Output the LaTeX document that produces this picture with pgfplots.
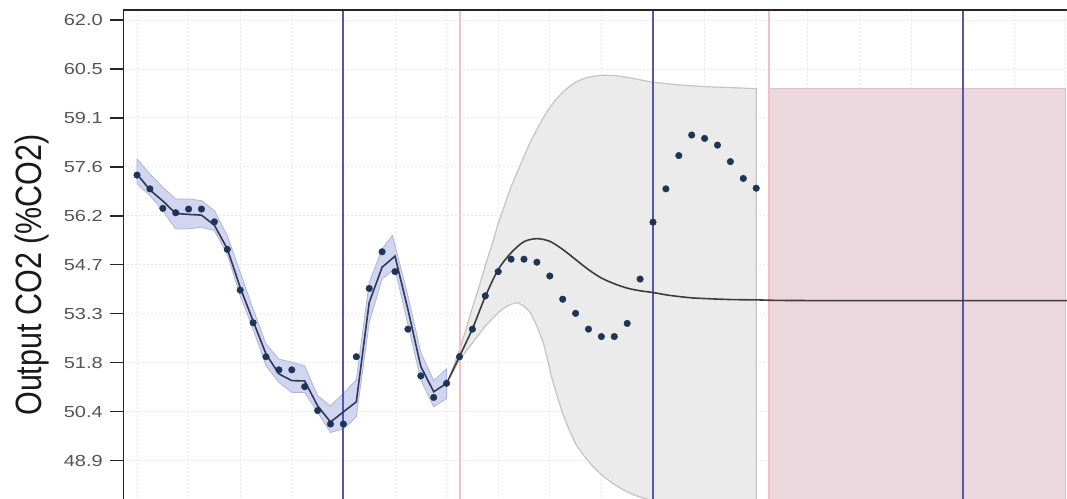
\documentclass[border=0pt]{standalone}
\usepackage{graphicx}
\usepackage{pgfplots}
\pgfplotsset{compat=1.18}
\usepackage{fontspec}
\setmainfont{Liberation Sans}
\newfontfamily\tickfont[FakeStretch=1.25]{Liberation Sans}
\definecolor{tickgray}{HTML}{555555}
\definecolor{ptblue}{HTML}{1D3557}
\definecolor{bandblue}{HTML}{D1D5EF}
\definecolor{bandblueedge}{HTML}{AEB4DC}
\definecolor{linenavy}{HTML}{2E3A58}
\definecolor{linegray}{HTML}{3C3C3C}
\definecolor{bandgray}{HTML}{EBEBEB}
\definecolor{bandgrayedge}{HTML}{C4C4C4}
\definecolor{pinkfill}{HTML}{EBD7DD}
\definecolor{pinkedge}{HTML}{D4C3C8}
\definecolor{vblue}{HTML}{5558A8}
\definecolor{vpink}{HTML}{F0C0CA}
\begin{document}
\begin{tikzpicture}
\useasboundingbox (0,0) rectangle (1067bp,-499bp);
\clip (0,0) rectangle (1067bp,-499bp);
\begin{axis}[
  name=ax,
  at={(123.3bp,-10bp)}, anchor=north west,
  scale only axis, width=948.95bp, height=514.6bp,
  xmin=-1.062, xmax=72.5, ymin=47.0, ymax=62.297,
  axis line style={draw=none},
  xtick={0,4,...,72}, xticklabels={}, xtick style={draw=none},
  ytick={62,60.5444,59.0889,57.6333,56.1778,54.7222,53.2667,51.8111,50.3556,48.9,47.4444},
  yticklabels={62.0,60.5,59.1,57.6,56.2,54.7,53.3,51.8,50.4,48.9,},
  ytick pos=left, tick align=outside, major tick length=13bp,
  ytick style={line width=1.3bp, color=black!85},
  yticklabel style={font=\tickfont\fontsize{16bp}{16bp}\selectfont, text=tickgray, xshift=-4bp},
  grid=major, major grid style={line width=0.9bp, dash pattern=on 1.5bp off 2.5bp, color=black!9},
  ylabel={\scalebox{1}[1.2]{Output CO2 (\%CO2)}},
  every axis y label/.style={at={(axis description cs:-0.0857,0.485)}, rotate=90, anchor=base, font=\fontsize{30.5bp}{30.5bp}\selectfont, text=black!90},
]
% pink forecast region
\addplot[fill=pinkfill, draw=pinkedge, line width=1bp] coordinates {
 (49,59.96) (71.94,59.96) (71.94,47.36) (49,47.36)} -- cycle;
% gray band
\addplot[fill=bandgray, draw=bandgrayedge, line width=1.2bp] coordinates {
 (24.3,51.45) (25,52.2) (25.5,52.8) (26,53.45) (26.5,54.05) (27,54.7) (27.5,55.3) (28,55.95) (28.5,56.5) (29,57.05) (29.5,57.5) (30,57.95) (30.5,58.38) (31,58.75) (31.5,59.1) (32,59.4) (32.5,59.65) (33,59.85) (33.5,60.02) (34,60.15) (34.5,60.24) (35,60.3) (36,60.36) (37,60.35) (38,60.3) (39,60.22) (40,60.15) (42,60.07) (44,60.02) (46,59.99) (48,59.96)
 (48,47.35) (46,47.4) (44,47.48) (42,47.58) (40.5,47.7) (39.6,47.75) (38.5,47.88) (37.7,48.03) (36.9,48.22) (36.1,48.45) (35.4,48.7) (34.7,49.02) (34,49.4) (33.5,49.82) (33,50.3) (32.6,50.78) (32.2,51.3) (31.8,51.95) (31.5,52.4) (31,52.9) (30.5,53.3) (30,53.5) (29.5,53.6) (29,53.55) (28.5,53.45) (28,53.3) (27.5,53.1) (27,52.9) (26.5,52.65) (26,52.4) (25.5,52.15) (25,51.9) (24.3,51.4)} -- cycle;
% blue band
\addplot[fill=bandblue, draw=bandblueedge, line width=0.8bp] coordinates {
 (0,57.87) (1,57.42) (2,57.03) (3,56.68) (4,56.68) (5,56.63) (6,56.33) (7,55.59) (8,54.5) (9,53.41) (10,52.37) (11,51.92) (12,51.83) (13,51.72) (14,50.83) (15,50.53) (16,50.9) (17,51.3) (18,54.2) (19,55.19) (19.8,55.6) (21,53.8) (22,52.12) (23,51.28) (24,51.63)
 (24,50.75) (23,50.5) (22,51.3) (21,52.95) (20,54.6) (19,54.3) (18,53.0) (17,50.2) (16,49.84) (15,49.74) (14,50.34) (13,50.93) (12,50.93) (11,51.23) (10,51.72) (9,52.81) (8,53.8) (7,55.04) (6,55.74) (5,55.84) (4,55.79) (3,55.79) (2,56.33) (1,56.78) (0,57.13)} -- cycle;
% vertical markers
\addplot[vpink, line width=2bp] coordinates {(25,46) (25,63)};
\addplot[vpink, line width=2bp] coordinates {(49,46) (49,63)};
\addplot[vblue, line width=2.1bp] coordinates {(16,46) (16,63)};
\addplot[vblue, line width=2.1bp] coordinates {(40,46) (40,63)};
\addplot[vblue, line width=2.1bp] coordinates {(64,46) (64,63)};
% fitted mean
\addplot[linenavy, line width=1.6bp] coordinates {
 (0,57.42) (1,56.95) (2,56.62) (3,56.25) (4,56.22) (5,56.2) (6,55.9) (7,55.2) (8,54.05) (9,53.05) (10,52.07) (11,51.48) (12,51.28) (13,51.27) (14,50.53) (15,50.05) (16,50.35) (17,50.65) (18,53.6) (19,54.65) (20,54.98) (21,53.4) (22,51.7) (23,50.95) (24,51.2)};
\addplot[linegray, line width=1.6bp, smooth] coordinates {
 (24,51.2) (25,52.0) (26,52.82) (27,53.78) (28,54.58) (29,55.08) (30,55.41) (31,55.5) (32,55.42) (33,55.18) (34,54.88) (35,54.58) (36,54.33) (37,54.16) (38,54.03) (39,53.95) (40,53.9) (41,53.83) (42,53.78) (43,53.74) (44,53.72) (46,53.69) (48,53.68) (52,53.66) (72.5,53.66)};
% observations
\addplot[only marks, mark=*, mark size=3.3bp, color=ptblue] coordinates {
 (0,57.39) (1,56.98) (2,56.40) (3,56.27) (4,56.38) (5,56.38) (6,56.00) (7,55.18) (8,53.97) (9,53.00)
 (10,51.99) (11,51.60) (12,51.60) (13,51.10) (14,50.39) (15,49.99) (16,49.99) (17,51.99) (18,54.02) (19,55.11)
 (20,54.52) (21,52.81) (22,51.42) (23,50.78) (24,51.20) (25,51.99) (26,52.81) (27,53.80) (28,54.52) (29,54.89)
 (30,54.89) (31,54.80) (32,54.39) (33,53.70) (34,53.28) (35,52.81) (36,52.59) (37,52.59) (38,52.98) (39,54.30)
 (40,55.99) (41,56.98) (42,57.97) (43,58.58) (44,58.48) (45,58.28) (46,57.79) (47,57.29) (48,57.00)};
\end{axis}
\draw[line width=1.3bp, black!85] (ax.south west) -- (ax.north west) -- (ax.north east);
\end{tikzpicture}
\end{document}
